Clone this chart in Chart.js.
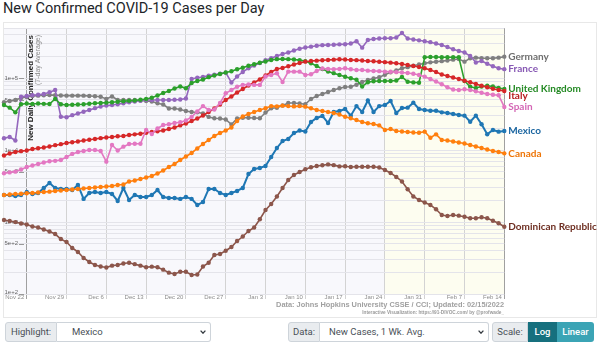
<!DOCTYPE html>
<html>
<head>
<meta charset="utf-8">
<script src="https://cdn.jsdelivr.net/npm/chart.js@4.4.1/dist/chart.umd.min.js"></script>
<style>
  html, body { margin: 0; padding: 0; background: #fff; width: 600px; height: 345px; overflow: hidden;
    font-family: Roboto, "Liberation Sans", Arial, sans-serif; }
  #title { position: absolute; left: 3px; top: 2px; font-size: 14.5px; line-height: 1; color: #212529; white-space: nowrap; }
  #panel { position: absolute; left: 3px; top: 22px; width: 594px; height: 296px; border: 1px solid #e8e8e8; box-sizing: border-box; }
  #c { position: absolute; left: 0; top: 0; }
  .src { position: absolute; right: 96px; white-space: nowrap; font-family: "Liberation Sans", Arial, sans-serif; line-height: 1; }
  #src1 { top: 301px; font-size: 7.4px; font-weight: bold; color: #a0a0a0; }
  #src2 { top: 311px; font-size: 4.7px; font-weight: bold; color: #9a9a9a; }
  .lab, .sel, .btn { position: absolute; top: 322px; height: 20px; box-sizing: border-box; font-size: 9.5px;
    line-height: 18px; white-space: nowrap; }
  .lab { background: #e9ecef; color: #495057; text-align: center; border: 1px solid #ced4da; border-radius: 3px 0 0 3px; }
  .sel { background: #fff; color: #495057; border: 1px solid #ced4da; border-left: none; border-radius: 0 3px 3px 0; }
  .sel svg { position: absolute; top: 7px; right: 4px; }
  .btn { color: #fff; text-align: center; line-height: 20px; font-weight: 500; }
  .btn.on { background: #16707e; }
  .btn.off { background: #3ba4b5; border-radius: 0 3px 3px 0; }
</style>
</head>
<body>
<div id="title">New Confirmed COVID-19 Cases per Day</div>
<div id="panel"></div>
<canvas id="c" width="600" height="320"></canvas>
<div class="src" id="src1">Data: Johns Hopkins University CSSE / CCI; Updated: 02/15/2022</div>
<div class="src" id="src2">Interactive Visualization: https://91-DIVOC.com/ by @profwade_</div>

<div class="lab" style="left:5px;width:52px;">Highlight:</div>
<div class="sel" style="left:57px;width:154px;padding-left:15px;">Mexico<svg width="6" height="4" viewBox="0 0 6 4"><polyline points="0.6,0.6 3,3.2 5.4,0.6" fill="none" stroke="#343a40" stroke-width="1.3"/></svg></div>
<div class="lab" style="left:288px;width:32px;">Data:</div>
<div class="sel" style="left:320px;width:169px;padding-left:9px;">New Cases, 1 Wk. Avg.<svg width="6" height="4" viewBox="0 0 6 4"><polyline points="0.6,0.6 3,3.2 5.4,0.6" fill="none" stroke="#343a40" stroke-width="1.3"/></svg></div>
<div class="lab" style="left:492px;width:36px;">Scale:</div>
<div class="btn on" style="left:528px;width:29px;">Log</div>
<div class="btn off" style="left:557px;width:37px;">Linear</div>

<script>
// Daily dates, Nov 18 2021 through Feb 14 2022
const monthNames = ['Jan','Feb','Mar','Apr','May','Jun','Jul','Aug','Sep','Oct','Nov','Dec'];
const dates = [];
for (let i = 0; i < 89; i++) {
  const d = new Date(2021, 10, 18 + i);
  dates.push(monthNames[d.getMonth()] + ' ' + d.getDate());
}

const xTickLabels = ['Nov 22','Nov 29','Dec 6','Dec 13','Dec 20','Dec 27','Jan 3','Jan 10','Jan 17','Jan 24','Jan 31','Feb 7','Feb 14'];
const yTickValues = [100, 500, 1000, 5000, 10000, 50000, 100000];
const yTickLabels = ['1e+2','5e+2','1e+3','5e+3','1e+4','5e+4','1e+5'];
const shadeFrom = 'Jan 24';

// New cases, 7-day average
const germany = [46300,48300,49900,53200,54900,56700,57300,58000,58500,58200,
  57600,57300,57300,57300,57300,56700,56200,55400,51600,55800,
  49900,49900,49900,49900,49100,48300,47500,44900,43200,38000,
  38000,36800,35100,34000,33600,32400,29000,27800,27600,26700,
  22800,27600,28300,28300,28000,27800,33400,38300,38900,41900,
  45300,45300,44600,43500,51600,56700,60500,64500,68700,72500,
  75700,76300,81400,88900,94500,99400,103600,111900,120800,128400,
  137800,142700,149700,155600,161700,166400,169600,172900,176900,181400,
  185500,170100,189700,193400,189700,189700,189700,193400,199700];

const france = [14640,15260,13650,55400,56700,58200,59100,60500,63900,68700,
  29200,28700,30700,32300,34300,36200,38400,40400,41700,42500,
  43600,45000,46500,47500,48600,49800,49900,49900,49900,49900,
  50300,50700,52300,97800,101600,104300,108700,112200,115900,119600,
  87300,105900,122400,137800,150700,163300,178600,189700,204000,217800,
  228300,243500,257100,267400,275000,283000,288800,290300,292400,296000,
  297000,304900,326900,266400,341000,352000,357700,359800,359800,369100,
  425500,357700,346100,336900,327900,317700,304900,290300,272200,253800,
  239800,228300,204000,166000,174000,159000,146900,137800,133800];

const unitedKingdom = [42500,39000,33600,43500,44600,43800,44600,44100,43800,51600,
  43500,42500,42800,43200,43600,44300,44900,45300,45800,46500,
  47200,47800,48500,49100,50300,51600,53700,57600,62400,66400,
  72100,76900,72500,86000,91700,96200,103600,109400,114800,120400,
  125100,133400,140000,149200,156600,164300,171300,179700,184500,185500,
  184500,182000,178600,172900,161700,148300,134700,124300,117800,111200,
  104900,100000,95500,76900,87900,91000,91700,91700,91700,93200,
  104300,89500,87600,86700,195900,198000,198000,195900,195900,195900,
  195900,91700,76300,73200,76900,78800,76900,73200,71000];

const italy = [8440,8980,9420,9690,9910,10390,10660,10900,11260,11740,
  12120,12600,12920,13200,13650,13950,14300,14690,15020,15260,
  15600,15760,16270,16600,16960,17500,17900,18310,18800,19700,
  20700,22100,23500,25500,27600,30400,34000,38000,43200,49900,
  55800,63400,71000,79300,87300,96200,109400,122400,134700,139000,
  146900,155600,163300,170100,174000,175700,178000,179700,181400,183700,
  182500,179700,178600,176900,174000,172300,169600,167500,164800,161700,
  158000,153200,148300,143600,137800,130500,122400,113000,107600,102600,
  97800,92500,87900,83200,78800,74900,71400,68700,66400];

const spain = [4770,4910,5030,5390,5830,6130,6420,6740,7000,7110,
  7300,8030,8870,9420,9750,10060,10060,9750,6920,11800,
  9910,11190,12200,12310,12310,19100,16800,20040,22400,22900,
  23900,24500,25900,29000,34500,41000,36200,36800,45300,61900,
  68700,76300,80900,81900,80900,80900,105900,111200,117400,88900,
  123500,123500,123500,111200,113700,126300,136900,134700,133800,134700,
  137800,133400,130500,130500,127600,126300,125500,123500,123100,121600,
  120000,118500,115500,111200,105300,97800,90100,82400,74900,69800,
  68700,70300,68700,65800,63000,60500,58900,58000,39900];

const mexico = [2380,2380,2300,2380,2620,2460,2540,2980,3500,2980,
  2890,2890,2790,3280,2100,2540,2620,2540,2620,2460,
  1965,2980,2030,2380,2230,2230,2380,2790,2230,2160,
  2160,2100,2230,2100,1730,1900,2890,2890,2540,2380,
  2540,2710,2980,4660,5470,5650,6020,8030,10730,13420,
  14300,17350,18800,18200,24700,28000,29900,23900,34000,35100,
  37400,30200,41000,34000,49100,34000,41000,42500,48300,32900,
  38600,39000,45800,37400,36200,35400,35400,33600,32900,31900,
  30900,30200,24900,30200,22900,16600,19100,18100,18500];

const canada = [2380,2420,2460,2480,2520,2540,2580,2620,2650,2710,
  2750,2790,2840,2890,2930,2980,3030,3080,3130,3180,
  3280,3330,3670,3790,3980,4170,4380,4740,5220,5830,
  6420,7300,8160,9140,10560,12200,13860,15760,17350,18800,
  20700,25500,29400,31900,34000,36200,38300,41000,40600,41600,
  41000,40600,41000,40300,38300,36200,35100,34000,32900,31400,
  29200,27800,26300,24700,23700,23100,22100,19100,19700,18500,
  18200,17900,17600,17500,18100,14900,16600,13860,13650,13200,
  12800,12400,11800,11260,10730,10230,9750,9420,9040];

const dominicanRepublic = [1070,1036,1000,955,925,867,840,788,739,682,
  581,528,436,384,317,279,253,241,234,248,
  253,266,272,260,248,236,240,236,218,198,
  190,204,204,184,187,241,272,349,360,400,
  450,545,630,751,840,1094,1474,1786,2270,2980,
  3850,4520,4970,5430,5780,6020,6160,6340,6190,5950,
  5970,5830,5890,5890,5890,5890,5750,5310,4820,4240,
  3670,2860,2270,2030,1875,1730,1507,1255,1216,1255,
  1228,1189,1130,1130,1166,1130,1046,962,862];

const series = [
  { name: 'Dominican Republic', data: dominicanRepublic, color: '#8c564b', text: '#6e2f22' },
  { name: 'Canada', data: canada, color: '#ff7f0e', text: '#ee7507' },
  { name: 'Spain', data: spain, color: '#e377c2', text: '#d466b5' },
  { name: 'Italy', data: italy, color: '#d62728', text: '#b81c1d' },
  { name: 'United Kingdom', data: unitedKingdom, color: '#2ca02c', text: '#258a25' },
  { name: 'France', data: france, color: '#9467bd', text: '#8758b4' },
  { name: 'Germany', data: germany, color: '#7f7f7f', text: '#6f6f6f' },
  { name: 'Mexico', data: mexico, color: '#1f77b4', text: '#1a65a0', width: 2 }
];

// y grid at every 1..9 multiple of each decade
const yGrid = [];
for (let p = 100; p <= 100000; p *= 10) {
  for (let m = 1; m <= 9; m++) { if (m * p <= 500000) yGrid.push(m * p); }
}

const backdrop = {
  id: 'backdrop',
  beforeDraw(chart) {
    const { ctx, chartArea: a, scales } = chart;
    ctx.save();
    ctx.fillStyle = '#f8f8fc';
    ctx.fillRect(a.left, a.top, a.right - a.left, a.bottom - a.top);
    const xs = scales.x.getPixelForValue(dates.indexOf(shadeFrom));
    ctx.fillStyle = '#fdfdf0';
    ctx.fillRect(xs, a.top, a.right - xs, a.bottom - a.top);
    ctx.restore();
  }
};

const axisText = {
  id: 'axisText',
  beforeDatasetsDraw(chart) {
    const { ctx, chartArea: a, scales } = chart;
    ctx.save();
    // y tick labels inside the plot
    ctx.font = '6px "Liberation Sans", Arial, sans-serif';
    ctx.fillStyle = '#666';
    ctx.textAlign = 'right';
    ctx.textBaseline = 'middle';
    ctx.strokeStyle = '#999';
    ctx.lineWidth = 1;
    yTickValues.forEach((v, i) => {
      const y = scales.y.getPixelForValue(v);
      ctx.fillText(yTickLabels[i], 18, y - (v === 100 ? 1.5 : 0));
      ctx.beginPath();
      ctx.moveTo(19, Math.round(y) + 0.5);
      ctx.lineTo(24, Math.round(y) + 0.5);
      ctx.stroke();
    });
    // y axis title
    ctx.translate(30.5, 35);
    ctx.rotate(-Math.PI / 2);
    ctx.textAlign = 'right';
    ctx.font = 'bold 8px "Liberation Sans", Arial, sans-serif';
    ctx.fillStyle = '#222';
    ctx.fillText('New Daily Confirmed Cases', 0, 0);
    ctx.font = '7px "Liberation Sans", Arial, sans-serif';
    ctx.fillStyle = '#8a8a8a';
    ctx.fillText('(7-day Average)', 0, 7.5);
    ctx.restore();

    // x tick labels, right-aligned against each weekly grid line
    ctx.save();
    ctx.font = '6px "Liberation Sans", Arial, sans-serif';
    ctx.fillStyle = '#8c8c8c';
    ctx.textAlign = 'right';
    ctx.textBaseline = 'middle';
    xTickLabels.forEach(lab => {
      const x = scales.x.getPixelForValue(dates.indexOf(lab));
      ctx.fillText(lab, x - 2.5, a.bottom + 3.5);
    });
    ctx.restore();
  }
};

const endLabels = {
  id: 'endLabels',
  afterDatasetsDraw(chart) {
    const { ctx } = chart;
    const items = chart.data.datasets.map((ds, i) => {
      const pts = chart.getDatasetMeta(i).data;
      const last = pts[pts.length - 1];
      return { text: ds.label, color: ds.labelColor, x: last.x + 4, y: last.y };
    }).sort((p, q) => p.y - q.y);
    let prev = -Infinity;
    items.forEach(it => { it.y = Math.max(it.y, prev + 7); prev = it.y; });
    ctx.save();
    ctx.font = 'bold 10px Lato, "Open Sans", sans-serif';
    ctx.textAlign = 'left';
    ctx.textBaseline = 'middle';
    items.forEach(it => { ctx.fillStyle = it.color; ctx.fillText(it.text, it.x, it.y); });
    ctx.restore();
  }
};

new Chart(document.getElementById('c'), {
  type: 'line',
  data: {
    labels: dates,
    datasets: series.map(s => ({
      label: s.name,
      data: s.data,
      labelColor: s.text,
      borderColor: s.color,
      backgroundColor: s.color,
      pointBackgroundColor: s.color,
      pointBorderWidth: 0,
      pointRadius: 2.2,
      borderWidth: s.width || 1.6,
      tension: 0,
      fill: false
    }))
  },
  options: {
    responsive: false,
    animation: false,
    devicePixelRatio: 1,
    events: [],
    layout: { padding: { left: 1.14, right: 95.7, top: 28, bottom: 16 } },
    plugins: { legend: { display: false }, tooltip: { enabled: false }, title: { display: false } },
    scales: {
      x: {
        type: 'category',
        offset: false,
        border: { display: false },
        grid: {
          offset: false,
          drawTicks: true,
          tickLength: 5,
          color: c => (c.tick && (c.tick.value === dates.indexOf('Nov 22') || c.tick.value === dates.indexOf('Feb 14'))) ? '#a0a0a0' : '#d3d3d3',
          lineWidth: 1
        },
        ticks: { display: false, autoSkip: false },
        afterBuildTicks: s => { s.ticks = s.ticks.filter(t => xTickLabels.includes(dates[t.value])); },
        afterFit: s => { s.height = 10; }
      },
      y: {
        type: 'logarithmic',
        min: 100,
        max: 500000,
        border: { display: false },
        grid: { drawTicks: false, color: '#e4e4ea', lineWidth: 1 },
        ticks: { display: false },
        afterBuildTicks: s => { s.ticks = yGrid.map(v => ({ value: v })); },
        afterFit: s => { s.width = 0; }
      }
    }
  },
  plugins: [backdrop, axisText, endLabels]
});
</script>
</body>
</html>
